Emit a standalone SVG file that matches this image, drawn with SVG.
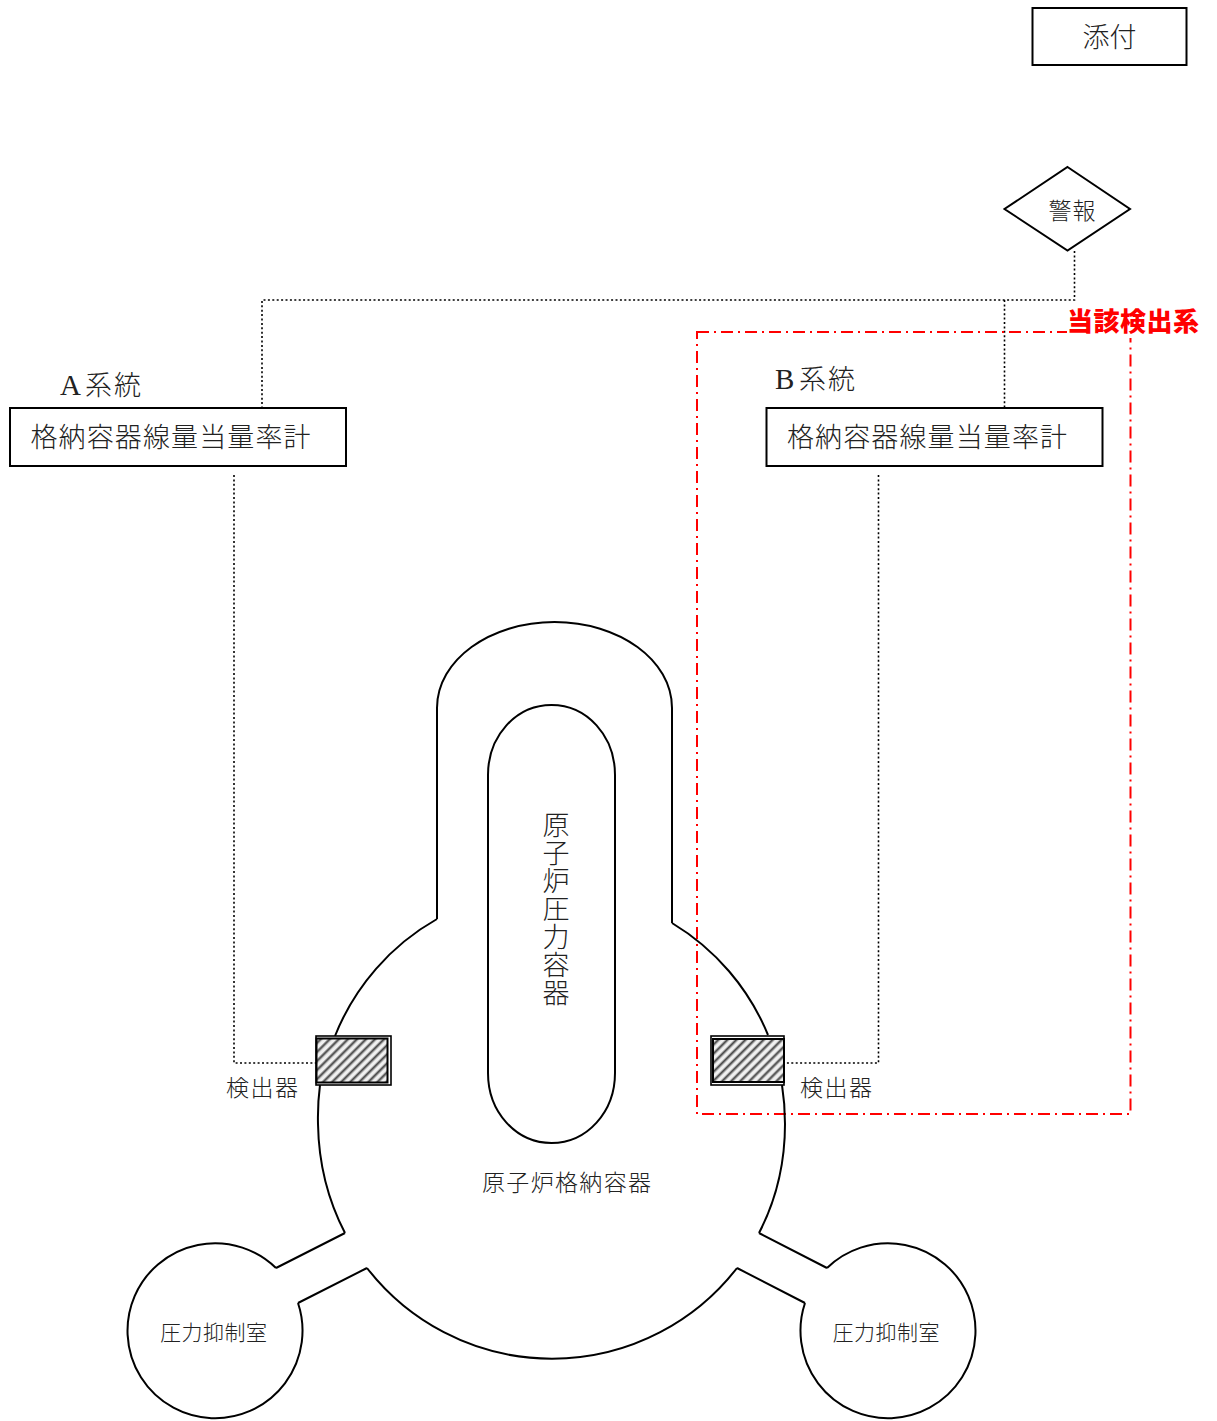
<svg xmlns="http://www.w3.org/2000/svg" width="1217" height="1421" viewBox="0 0 1217 1421">
<style>
text{font-family:"Noto Sans CJK JP","Noto Sans CJK SC",sans-serif;font-weight:300;fill:#222}
.s{fill:none;stroke:#000;stroke-width:2}
.b{fill:#fff;stroke:#000;stroke-width:2}
.d{fill:none;stroke:#000;stroke-width:1.600;stroke-dasharray:2 2.400}
.h{fill:url(#hatch);stroke:#000;stroke-width:2}
.o{fill:#fff;stroke:#000;stroke-width:1.600}
.l{font-size:27px}
.m{font-size:23px}
.n{font-size:21px}
.latin{font-family:"Liberation Serif",serif;font-weight:400}
</style>
<defs>
<pattern id="hatch" width="6.4" height="6.4" patternUnits="userSpaceOnUse" patternTransform="rotate(45)">
<rect width="6.4" height="6.4" fill="#f0f0f0"/>
<rect x="0" width="3.200" height="6.4" fill="#a0a0a0"/>
<rect x="0.900" width="1.400" height="6.4" fill="#4a4a4a"/>
</pattern>
</defs>
<g id="attachment"><rect class="b" x="1032.500" y="8" width="154" height="57"/><text x="1109.500" y="47" class="l" text-anchor="middle">添付</text></g>
<g id="alarm"><polygon class="b" points="1067.500,167 1130,209 1067.500,250.500 1004.500,209"/><text x="1072" y="219" class="m" text-anchor="middle" textLength="47">警報</text></g>
<g id="connectors">
<path class="d" d="M1074.500 251V300H262V408M1004.500 300V408M234 475V1063H316M878.500 475V1063H785"/>
</g>
<g id="target-system"><rect x="697" y="332" width="433.500" height="782" fill="none" stroke="#f00" stroke-width="2" stroke-dasharray="12 5 2 5"/><rect x="1067" y="306" width="133" height="32" fill="#fff"/><text x="1133" y="331" font-size="26" text-anchor="middle" textLength="132" style="font-weight:900;fill:#f00">当該検出系</text></g>
<g id="system-a"><text x="60" y="395" font-size="29" class="latin">A</text><text x="85" y="395" class="l" textLength="56">系統</text><rect class="b" x="10" y="408" width="336" height="58"/><text x="30.500" y="447" class="l" textLength="280">格納容器線量当量率計</text></g>
<g id="system-b"><text x="775" y="389" font-size="29" class="latin">B</text><text x="799" y="389" class="l" textLength="56">系統</text><rect class="b" x="766.500" y="408" width="336" height="58"/><text x="787" y="447" class="l" textLength="280">格納容器線量当量率計</text></g>
<g id="containment"><path class="s" d="M437 919V708C437 660 490 622 554.500 622S672 660 672 708V923M437 919A234 234 0 0 0 335 1036M672 923A234 234 0 0 1 768 1035M320 1085Q317.500 1104 318 1124Q319 1183 345 1233M759 1233Q785 1183 785 1124Q785 1104 782 1085M367 1268A234 234 0 0 0 737 1268M345 1233L276 1268M367 1268L298 1303M759 1233L827 1268M737 1268L805 1303"/><text x="566.500" y="1191" class="m" text-anchor="middle" textLength="169">原子炉格納容器</text></g>
<g id="pressure-vessel"><path class="s" d="M488 775C488 736 516 705 551.500 705S615 736 615 775V1073C615 1112 587 1143 551.500 1143S488 1112 488 1073Z"/><text class="l" x="556" y="811" style="writing-mode:vertical-rl;letter-spacing:1px">原子炉圧力容器</text></g>
<g id="detector-a"><rect class="o" x="316" y="1036" width="75" height="49"/><rect class="h" x="316.500" y="1038.500" width="71" height="44"/><text x="226" y="1096" class="m" textLength="72">検出器</text></g>
<g id="detector-b"><rect class="o" x="711" y="1036" width="73" height="49"/><rect class="h" x="713" y="1039" width="71" height="43"/><text x="800" y="1096" class="m" textLength="72">検出器</text></g>
<g id="suppression-left"><path class="s" d="M276 1268A87.500 87.500 0 1 0 298 1303"/><text x="213.500" y="1340" class="n" text-anchor="middle" textLength="107">圧力抑制室</text></g>
<g id="suppression-right"><path class="s" d="M827 1268A87.500 87.500 0 1 1 805 1303"/><text x="886" y="1340" class="n" text-anchor="middle" textLength="107">圧力抑制室</text></g>
</svg>
